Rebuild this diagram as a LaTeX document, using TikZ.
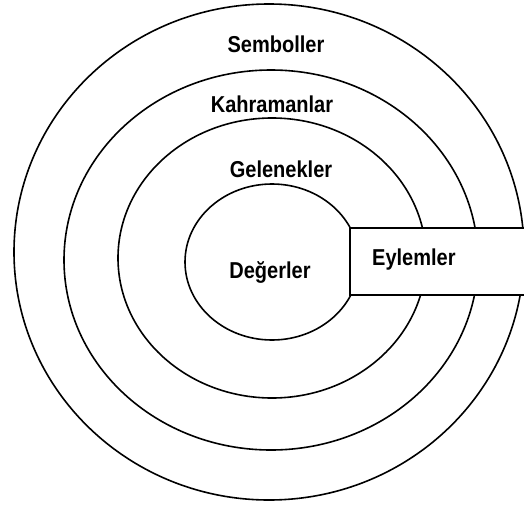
\documentclass[tikz,border=0pt]{standalone}
\usepackage{fontspec}
\setmainfont{Liberation Sans}[FakeStretch=0.87]
\usepackage{tikz}
\usetikzlibrary{positioning}

\begin{document}
\begin{tikzpicture}[x=1pt,y=-1pt,
  ring/.style={draw=black,line width=1.6pt},
  lbl/.style={font=\fontsize{23}{25}\selectfont\bfseries,inner sep=0pt,anchor=base},
  kutu/.style={draw=black,line width=1.6pt,fill=white}]
  \useasboundingbox (0,0) rectangle (524,506);
  % halkalar
  \draw[ring] (269,252) ellipse [x radius=255pt,y radius=248pt];
  \draw[ring] (271,260) ellipse [x radius=207pt,y radius=190pt];
  \draw[ring] (272,258) ellipse [x radius=154pt,y radius=140pt];
  \draw[ring] (272,262) ellipse [x radius=87pt,y radius=78pt];
  % eylemler kutusu
  \fill[white] (350,228) rectangle (524,295);
  \draw[kutu] (524,228) -- (350,228) -- (350,295) -- (524,295);
  % etiketler
  \node[lbl] (sem) at (276,52) {Semboller};
  \node[lbl] (kah) at (272,112) {Kahramanlar};
  \node[lbl] (gel) at (281,177) {Gelenekler};
  \node[lbl] (deg) at (270,278) {Değerler};
  \node[lbl,anchor=base west] (eyl) at (372,265) {Eylemler};
\end{tikzpicture}
\end{document}
